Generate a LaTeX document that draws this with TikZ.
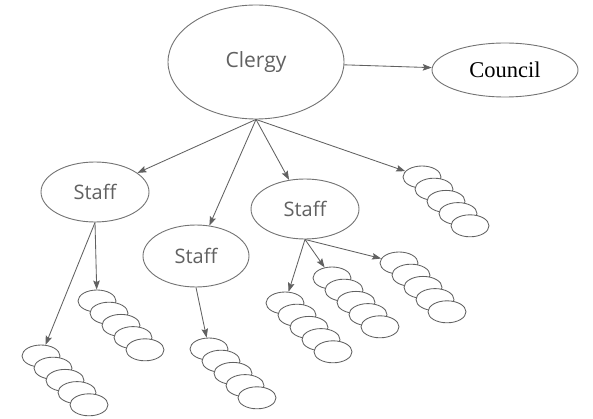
\documentclass[tikz,border=0pt]{standalone}
\usepackage{fontspec}
\setmainfont{Liberation Serif}
\newfontfamily\labelsans{Open Sans}
\usetikzlibrary{shapes.geometric,arrows.meta,calc}

\tikzset{
  bubble/.style={ellipse, draw=black!55, line width=0.9pt, fill=white, inner sep=0pt,
                 font=\labelsans\fontsize{20}{20}\selectfont, text=black!62},
  member/.style={ellipse, draw=black!62, line width=0.85pt, fill=white, inner sep=0pt,
                 minimum width=38pt, minimum height=22pt},
  link/.style={draw=black!62, line width=0.85pt, -{Stealth[length=9pt,width=6.5pt,inset=1.5pt]}}
}

% a diagonal column of five overlapping member ellipses, named <name>-0 ... <name>-4
\newcommand\leafstack[3]{%
  \foreach \k in {0,...,4}{%
    \node[member] (#1-\k) at (#2+\k*12, #3+\k*12.2) {};
  }%
}

\begin{document}
\begin{tikzpicture}[x=1pt, y=-1pt]
  \useasboundingbox (0,0) rectangle (593,419);

  % top level
  \node[bubble, minimum width=176pt, minimum height=114pt,
        font=\labelsans\fontsize{21}{21}\selectfont] (clergy) at (256,62) {Clergy};
  \node[ellipse, draw=black!55, line width=0.9pt, inner sep=0pt,
        minimum width=146pt, minimum height=54pt,
        font=\fontsize{22.5}{22.5}\selectfont] (council) at (505,70) {Council};

  % staff level
  \node[bubble, minimum width=108pt, minimum height=60pt] (staff1) at (95,192) {Staff};
  \node[bubble, minimum width=106pt, minimum height=62pt] (staff2) at (196,256) {Staff};
  \node[bubble, minimum width=108pt, minimum height=60pt] (staff3) at (305,209) {Staff};

  % member groups
  \leafstack{ga}{41}{356}
  \leafstack{gb}{97}{301}
  \leafstack{gc}{209}{349}
  \leafstack{gd}{285}{303}
  \leafstack{ge}{332}{278}
  \leafstack{gf}{399}{263}
  \leafstack{gg}{422}{177}

  % connectors
  \coordinate (hub) at (clergy.south);
  \draw[link] (clergy) -- (council);
  \draw[link] (hub) -- (staff1);
  \draw[link] (hub) -- (staff2);
  \draw[link] (hub) -- (staff3);
  \draw[link] (hub) -- (gg-0);

  \coordinate (f1) at (staff1.south);
  \draw[link] (f1) -- (ga-0);
  \draw[link] (f1) -- (gb-0);

  \draw[link] (staff2.south) -- (gc-0);

  \coordinate (f3) at (staff3.south);
  \draw[link] (f3) -- (gd-0);
  \draw[link] (f3) -- (ge-0);
  \draw[link] (f3) -- (gf-0);
\end{tikzpicture}
\end{document}
